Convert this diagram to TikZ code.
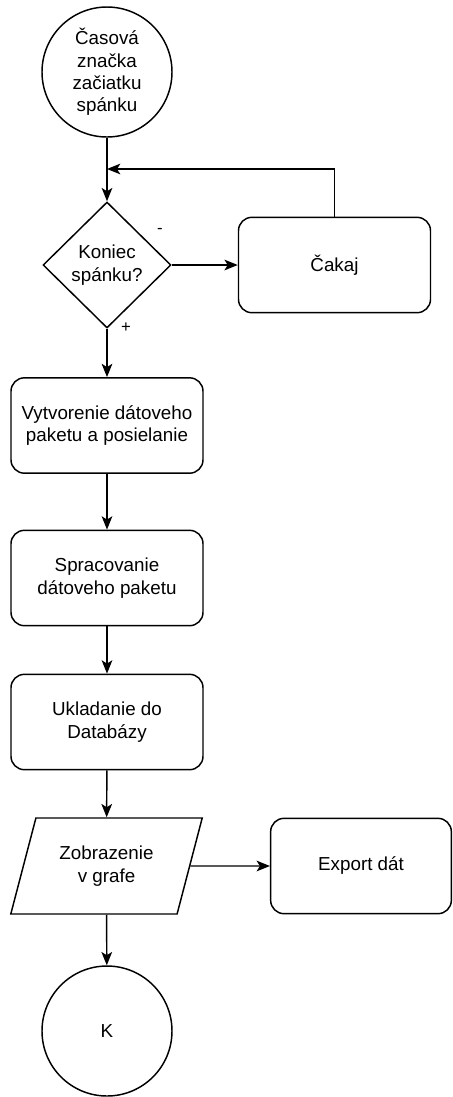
\documentclass[tikz,border=0pt]{standalone}
\usepackage{fontspec}
\setmainfont{Liberation Sans}
\usepackage{tikz}
\usetikzlibrary{shapes.geometric,arrows.meta}

\begin{document}
\begin{tikzpicture}[x=0.75pt,y=-0.75pt,line width=1.1pt,
  txt/.style={font=\fontsize{14.1}{16.8}\selectfont,align=center,inner sep=1pt},
  box/.style={txt,draw,rounded corners=10pt,minimum width=144pt,minimum height=71.5pt},
  term/.style={txt,draw,circle,minimum size=97.5pt},
  dec/.style={txt,draw,diamond,minimum width=96pt,minimum height=94.5pt},
  io/.style={txt,draw,trapezium,trapezium left angle=68,trapezium right angle=112,
    trapezium stretches=true,minimum width=144.5pt,minimum height=72pt},
  lab/.style={font=\fontsize{12.5}{14}\selectfont,inner sep=0pt},
  arr/.style={-{Stealth[length=10pt,width=8pt,inset=2.5pt]}}]
\useasboundingbox (0,0) rectangle (453,1097);
% nodes
\node[term] (start) at (107,72) {Časová\\ značka\\ začiatku\\ spánku};
\node[dec] (koniec) at (107,265) {Koniec\\ spánku?};
\node[box] (cakaj) at (334.5,265) {Čakaj};
\node[box] (paket) at (107,425.5) {Vytvorenie dátoveho\\ paketu a posielanie};
\node[box] (spracovanie) at (107,578) {Spracovanie\\ dátoveho paketu};
\node[box] (ukladanie) at (107,722) {Ukladanie do\\ Databázy};
\node[io] (graf) at (106.5,866) {Zobrazenie\\ v grafe};
\node[box,minimum width=135.5pt] (export) at (361,866) {Export dát};
\node[term] (koniecK) at (107,1031) {K};
\coordinate (join) at (107,169);
\node[lab] (minus) at (160,231) {-};
\node[lab] (plus) at (126,328) {+};
% connectors
\draw[arr] (start) -- (koniec);
\draw[arr] (cakaj.north) |- (join);
\draw[arr] (koniec) -- (cakaj);
\draw[arr] (koniec) -- (paket);
\draw[arr] (paket) -- (spracovanie);
\draw[arr] (spracovanie) -- (ukladanie);
\draw[arr] (ukladanie) -- (graf);
\draw[arr] (graf.east) -- (export.west);
\draw[arr] (graf) -- (koniecK);
\end{tikzpicture}
\end{document}
